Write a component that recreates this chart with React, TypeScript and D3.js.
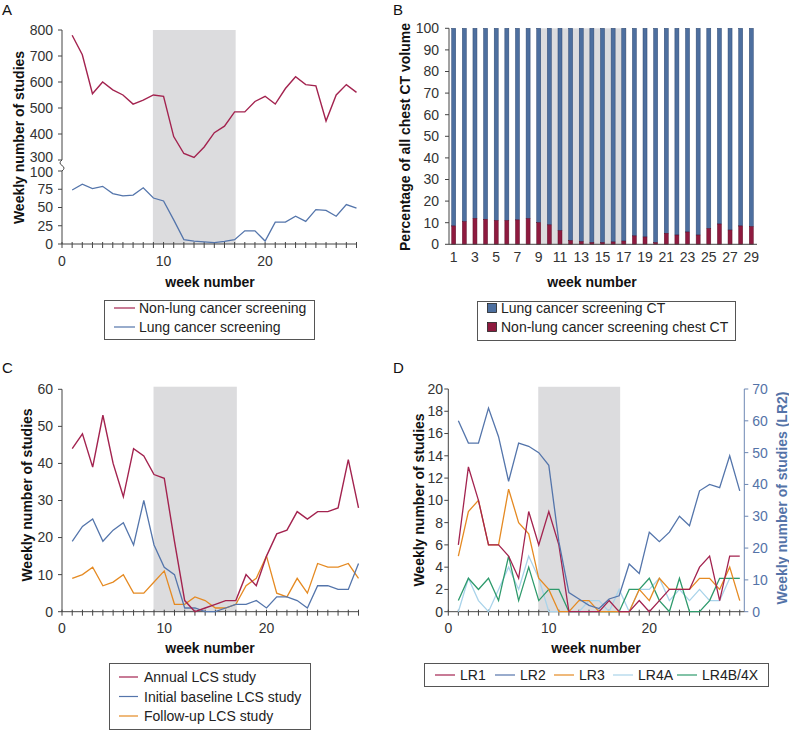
import React from 'react';
import * as d3 from 'd3';

// weekly data
const weeks = [1, 2, 3, 4, 5, 6, 7, 8, 9, 10, 11, 12, 13, 14, 15, 16, 17, 18, 19, 20, 21, 22, 23, 24, 25, 26, 27, 28, 29];

// panel A
const nonLungScreening = [780, 705, 555, 600, 570, 550, 515, 530, 550, 545, 390, 325, 310, 350, 405, 430, 485, 485, 525, 545, 515, 575, 620, 590, 585, 450, 550, 590, 560];
const lungScreening = [74, 82, 76, 79, 69, 66, 67, 77, 63, 59, 33, 6, 4, 3, 2, 3.5, 6, 18, 18, 4, 30, 30, 38, 31, 47, 46, 38, 54, 49];
const aTopTicks = [300, 400, 500, 600, 700, 800];
const aBottomTicks = [0, 25, 50, 75, 100];

// panel B (percent of all chest CT)
const redShare = [8.5, 10.5, 12, 11.6, 11, 11, 11.3, 11.9, 10, 9, 6.3, 1.7, 1.2, 0.8, 0.8, 1.1, 1.5, 3.9, 3.4, 0.8, 5.1, 4.3, 5.7, 4.3, 7.3, 9.4, 6.6, 8.5, 8.2];
const bTicks = [0, 10, 20, 30, 40, 50, 60, 70, 80, 90, 100];
const bWeekLabels = [1, 3, 5, 7, 9, 11, 13, 15, 17, 19, 21, 23, 25, 27, 29];

// panel C
const annualLCS = [44, 48, 39, 53, 40, 31, 44, 42, 37, 36, 19, 3, 0, 1, 2, 3, 3, 10, 7, 15, 21, 22, 27, 25, 27, 27, 28, 41, 28];
const baselineLCS = [19, 23, 25, 19, 22, 24, 18, 30, 18, 12, 10, 1, 1, 0, 0, 1, 2, 2, 3, 1, 4, 4, 3, 1, 7, 7, 6, 6, 13];
const followUpLCS = [9, 10, 12, 7, 8, 10, 5, 5, 8, 11, 2, 2, 4, 3, 1, 1, 2, 7, 9, 15, 5, 4, 9, 5, 13, 12, 12, 13, 9];
const cTicks = [0, 10, 20, 30, 40, 50, 60];

// panel D
const lr1 = [6, 13, 10, 6, 6, 5, 3, 9, 6, 9, 6, 0, 0, 0, 0, 1, 0, 0, 1, 0, 1, 2, 2, 2, 4, 5, 1, 5, 5];
const lr2 = [60, 53, 53, 64, 55, 41, 53, 52, 50, 46, 22, 6, 4, 2, 1, 4, 5, 15, 12, 25, 22, 25, 30, 27, 38, 40, 39, 49, 38];
const lr3 = [5, 9, 10, 6, 6, 11, 8, 7, 3, 2, 0, 0, 1, 1, 0, 0, 0, 0, 2, 1, 3, 2, 2, 2, 3, 3, 2, 4, 1];
const lr4a = [0, 3, 1, 0, 2, 4, 2, 5, 3, 0, 0, 0, 0, 1, 1, 0, 2, 0, 2, 2, 3, 1, 2, 1, 2, 1, 1, 3, 3];
const lr4b = [1, 3, 2, 3, 1, 5, 1, 4, 1, 2, 2, 0, 0, 0, 0, 0, 0, 2, 2, 3, 1, 0, 3, 0, 0, 1, 3, 3, 3];
const dLeftTicks = [0, 2, 4, 6, 8, 10, 12, 14, 16, 18, 20];
const dRightTicks = [0, 10, 20, 30, 40, 50, 60, 70];

const weekMinorTicks = [0, 1, 2, 3, 4, 5, 6, 7, 8, 9, 10, 11, 12, 13, 14, 15, 16, 17, 18, 19, 20, 21, 22, 23, 24, 25, 26, 27, 28, 29];
const weekMajorTicks = [0, 10, 20];
const lockdown = [8.95, 17.1];

const RED = '#a3234f';
const BLUE = '#5475ab';
const ORANGE = '#e58a22';
const LIGHT = '#a9d3ea';
const GREEN = '#2e9a6c';
const SHADE = '#dcdcde';
const AXIS = '#444';
const TICK = '#333';
const FONT = '"Liberation Sans", Arial, Helvetica, sans-serif';

type Scale = d3.ScaleLinear<number, number>;

function YAxisLeft({ scale, ticks, x, labelEnd, nudge = {} }:
  { scale: Scale; ticks: number[]; x: number; labelEnd: number; nudge?: Record<number, number> }) {
  const [a, b] = scale.range();
  return (
    <g>
      <line x1={x} x2={x} y1={a} y2={b} stroke={AXIS} />
      {ticks.map(t => (
        <g key={t}>
          <line x1={x - 4} x2={x} y1={scale(t)} y2={scale(t)} stroke={AXIS} />
          <text x={labelEnd} y={scale(t) + (nudge[t] || 0)} dy="0.35em" textAnchor="end" fill={TICK} fontSize={14}>{t}</text>
        </g>
      ))}
    </g>
  );
}

function WeekAxis({ scale, y, end, labelY }: { scale: Scale; y: number; end: number; labelY: number }) {
  return (
    <g>
      <line x1={scale(0)} x2={end} y1={y} y2={y} stroke={AXIS} />
      {weekMinorTicks.map(t => (
        <line key={t} x1={scale(t)} x2={scale(t)} y1={y - 2} y2={y + 4} stroke={AXIS} />
      ))}
      {weekMajorTicks.map(t => (
        <text key={t} x={scale(t)} y={labelY} textAnchor="middle" fill={TICK} fontSize={14}>{t}</text>
      ))}
    </g>
  );
}

function YTitle({ x, y, text, color = '#111' }: { x: number; y: number; text: string; color?: string }) {
  return (
    <text transform={`translate(${x},${y}) rotate(-90)`} textAnchor="middle" dominantBaseline="central"
      fontSize={14} fontWeight="bold" fill={color}>{text}</text>
  );
}

function seriesPath(values: number[], x: Scale, y: Scale) {
  return d3.line<number>().x((d, i) => x(weeks[i])).y(d => y(d))(values) || '';
}

function PanelA() {
  const x = d3.scaleLinear().domain([0, 29]).range([62, 356.5]);
  const yTop = d3.scaleLinear().domain([300, 800]).range([160, 30]);
  const yBot = d3.scaleLinear().domain([0, 100]).range([244, 171]);
  return (
    <g>
      <text x={2} y={15} fontSize={15} fill="#111">A</text>
      <rect x={x(lockdown[0])} y={yTop(800)} width={x(lockdown[1]) - x(lockdown[0])} height={yBot(0) - yTop(800)} fill={SHADE} />
      <YAxisLeft scale={yTop} ticks={aTopTicks} x={62} labelEnd={53} nudge={{ 300: -3 }} />
      <YAxisLeft scale={yBot} ticks={aBottomTicks} x={62} labelEnd={53} nudge={{ 100: 1.5 }} />
      <path d="M62,160 Q58,163 62,165.5 Q66,168 62,171" fill="none" stroke={AXIS} />
      <WeekAxis scale={x} y={244} end={357} labelY={266} />
      <path d={seriesPath(nonLungScreening, x, yTop)} fill="none" stroke={RED} strokeWidth={1.4} />
      <path d={seriesPath(lungScreening, x, yBot)} fill="none" stroke={BLUE} strokeWidth={1.3} />
      <YTitle x={18.5} y={137.5} text="Weekly number of studies" />
      <text x={210} y={287} textAnchor="middle" fontSize={14} fontWeight="bold" fill="#111">week number</text>
      <rect x={104.5} y={300.5} width={210} height={39} fill="none" stroke="#555" />
      <line x1={114} x2={135} y1={308} y2={308} stroke={RED} strokeWidth={1.2} />
      <text x={139} y={313} fontSize={14} fill="#222">Non-lung cancer screening</text>
      <line x1={114} x2={135} y1={327} y2={327} stroke={BLUE} strokeWidth={1.2} />
      <text x={139} y={332} fontSize={14} fill="#222">Lung cancer screening</text>
    </g>
  );
}

function PanelB() {
  const x = d3.scaleLinear().domain([1, 29]).range([453.7, 751.3]);
  const y = d3.scaleLinear().domain([0, 100]).range([244.3, 28.3]);
  const bw = 4;
  return (
    <g>
      <text x={393} y={15} fontSize={15} fill="#111">B</text>
      <rect x={x(9) - bw / 2} y={y(100)} width={x(17) - x(9) + bw + 1} height={y(0) - y(100)} fill={SHADE} />
      {weeks.map((w, i) => (
        <g key={w}>
          <rect x={x(w) - bw / 2} y={y(100)} width={bw} height={y(redShare[i]) - y(100)} fill="#4d6f9f" stroke="#2d4770" strokeWidth={0.5} />
          <rect x={x(w) - bw / 2} y={y(redShare[i])} width={bw} height={y(0) - y(redShare[i])} fill="#8e1a3f" stroke="#5e0f28" strokeWidth={0.5} />
        </g>
      ))}
      <YAxisLeft scale={y} ticks={bTicks} x={449} labelEnd={439} />
      <line x1={449} x2={757} y1={y(0)} y2={y(0)} stroke={AXIS} />
      {bWeekLabels.map(w => (
        <text key={w} x={x(w)} y={261.5} textAnchor="middle" fill={TICK} fontSize={14}>{w}</text>
      ))}
      <YTitle x={405} y={137} text="Percentage of all chest CT volume" />
      <text x={592} y={287} textAnchor="middle" fontSize={14} fontWeight="bold" fill="#111">week number</text>
      <rect x={477.5} y={301.5} width={258} height={39} fill="none" stroke="#555" />
      <rect x={487.5} y={303.5} width={9} height={9} fill="#4d6f9f" stroke="#222" strokeWidth={0.8} />
      <text x={501} y={313} fontSize={14} fill="#222">Lung cancer screening CT</text>
      <rect x={487.5} y={322.5} width={9} height={9} fill="#8e1a3f" stroke="#222" strokeWidth={0.8} />
      <text x={501} y={332} fontSize={14} fill="#222">Non-lung cancer screening chest CT</text>
    </g>
  );
}

function PanelC() {
  const x = d3.scaleLinear().domain([0, 20]).range([62, 266.5]);
  const y = d3.scaleLinear().domain([0, 60]).range([611.7, 389.3]);
  return (
    <g>
      <text x={2} y={373} fontSize={15} fill="#111">C</text>
      <rect x={x(lockdown[0])} y={y(60.7)} width={x(lockdown[1]) - x(lockdown[0])} height={y(0) - y(60.7)} fill={SHADE} />
      <YAxisLeft scale={y} ticks={cTicks} x={62} labelEnd={53} />
      <WeekAxis scale={x} y={611.7} end={359} labelY={632.5} />
      <path d={seriesPath(followUpLCS, x, y)} fill="none" stroke={ORANGE} strokeWidth={1.3} />
      <path d={seriesPath(baselineLCS, x, y)} fill="none" stroke={BLUE} strokeWidth={1.3} />
      <path d={seriesPath(annualLCS, x, y)} fill="none" stroke={RED} strokeWidth={1.4} />
      <YTitle x={27} y={495} text="Weekly number of studies" />
      <text x={210} y={653} textAnchor="middle" fontSize={14} fontWeight="bold" fill="#111">week number</text>
      <rect x={109.5} y={663.5} width={201} height={66} fill="none" stroke="#555" />
      <line x1={119} x2={138} y1={677} y2={677} stroke={RED} strokeWidth={1.2} />
      <text x={144} y={682} fontSize={14} fill="#222">Annual LCS study</text>
      <line x1={119} x2={138} y1={696.5} y2={696.5} stroke={BLUE} strokeWidth={1.2} />
      <text x={144} y={701.5} fontSize={14} fill="#222">Initial baseline LCS study</text>
      <line x1={119} x2={138} y1={716} y2={716} stroke={ORANGE} strokeWidth={1.2} />
      <text x={144} y={721} fontSize={14} fill="#222">Follow-up LCS study</text>
    </g>
  );
}

function PanelD() {
  const x = d3.scaleLinear().domain([0, 20]).range([448.3, 649.3]);
  const yL = d3.scaleLinear().domain([0, 20]).range([611.7, 389]);
  const yR = d3.scaleLinear().domain([0, 70]).range([611.7, 389]);
  const axisR = 744.3;
  const legend = [
    { name: 'LR1', color: RED, lx: 435, tx: 460 },
    { name: 'LR2', color: BLUE, lx: 495, tx: 520 },
    { name: 'LR3', color: ORANGE, lx: 554, tx: 579 },
    { name: 'LR4A', color: LIGHT, lx: 613, tx: 638 },
    { name: 'LR4B/4X', color: GREEN, lx: 677, tx: 702 },
  ];
  return (
    <g>
      <text x={393} y={373} fontSize={15} fill="#111">D</text>
      <rect x={x(lockdown[0])} y={yL(20.2)} width={x(lockdown[1]) - x(lockdown[0])} height={yL(0) - yL(20.2)} fill={SHADE} />
      <YAxisLeft scale={yL} ticks={dLeftTicks} x={448.3} labelEnd={443} />
      <line x1={axisR} x2={axisR} y1={yR(0)} y2={yR(70)} stroke="#6d87b3" />
      {dRightTicks.map(t => (
        <g key={t}>
          <line x1={axisR} x2={axisR + 4} y1={yR(t)} y2={yR(t)} stroke="#6d87b3" />
          <text x={axisR + 8} y={yR(t)} dy="0.35em" fill="#5473a8" fontSize={14}>{t}</text>
        </g>
      ))}
      <WeekAxis scale={x} y={611.7} end={axisR} labelY={633} />
      <path d={seriesPath(lr4a, x, yL)} fill="none" stroke={LIGHT} strokeWidth={1.3} />
      <path d={seriesPath(lr4b, x, yL)} fill="none" stroke={GREEN} strokeWidth={1.3} />
      <path d={seriesPath(lr3, x, yL)} fill="none" stroke={ORANGE} strokeWidth={1.3} />
      <path d={seriesPath(lr1, x, yL)} fill="none" stroke={RED} strokeWidth={1.3} />
      <path d={seriesPath(lr2, x, yR)} fill="none" stroke={BLUE} strokeWidth={1.3} />
      <YTitle x={419} y={500} text="Weekly number of studies" />
      <YTitle x={782} y={498} text="Weekly number of studies (LR2)" color="#5473a8" />
      <text x={596} y={653} textAnchor="middle" fontSize={14} fontWeight="bold" fill="#111">week number</text>
      <rect x={424.5} y={663.5} width={344} height={23} fill="none" stroke="#555" />
      {legend.map(l => (
        <g key={l.name}>
          <line x1={l.lx} x2={l.lx + 20} y1={675} y2={675} stroke={l.color} strokeWidth={1.2} />
          <text x={l.tx} y={680} fontSize={14} fill="#222">{l.name}</text>
        </g>
      ))}
    </g>
  );
}

export default function App() {
  return (
    <svg width={789} height={731} viewBox="0 0 789 731"
      style={{ position: 'absolute', left: 0, top: 0, display: 'block', background: '#fff' }}
      fontFamily={FONT}>
      <PanelA />
      <PanelB />
      <PanelC />
      <PanelD />
    </svg>
  );
}
